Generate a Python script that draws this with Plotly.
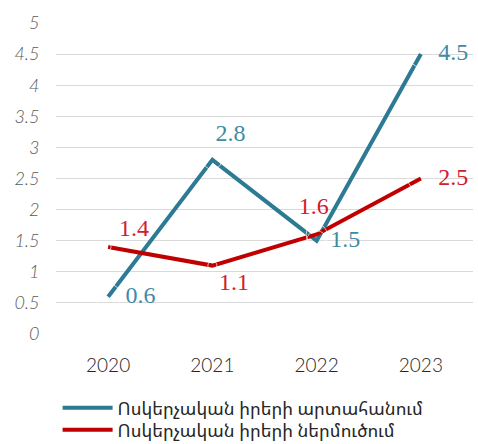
import plotly.graph_objects as go

years = ["2020", "2021", "2022", "2023"]
export_vals = [0.6, 2.8, 1.5, 4.5]
import_vals = [1.4, 1.1, 1.6, 2.5]
export_name = "Ոսկերչական իրերի արտահանում"
import_name = "Ոսկերչական իրերի ներմուծում"
y_ticks = [0, 0.5, 1, 1.5, 2, 2.5, 3, 3.5, 4, 4.5, 5]
y_tick_text = ["0", "0.5", "1", "1.5", "2", "2.5", "3", "3.5", "4", "4.5", "5"]

# styling
blue = "#2C7A93"
blue_lbl = "#3F8BA6"
red = "#C00000"
red_lbl = "#D0202A"
lbl_font = dict(family="Liberation Serif", size=24)
NB = "\u00a0"
# label placement: position, invisible marker size (sets distance), leading / trailing padding
exp_pos = ["middle right", "top center", "middle right", "middle right"]
exp_gap = [26, 19, 20, 26]
exp_lead = [0, 6, 0, 0]
exp_trail = [0, 0, 0, 0]
imp_pos = ["top right", "bottom right", "top center", "middle right"]
imp_gap = [6, 9, 21, 26]
imp_lead = [1, 0, 0, 0]
imp_trail = [0, 0, 1, 0]


def labels(vals, lead, trail):
    return [NB * a + f"{v:.1f}" + NB * b for v, a, b in zip(vals, lead, trail)]


fig = go.Figure()
fig.add_trace(go.Scatter(x=years, y=export_vals, mode="lines", name=export_name,
                         line=dict(color=blue, width=4), legend="legend", hoverinfo="skip"))
fig.add_trace(go.Scatter(x=years, y=import_vals, mode="lines", name=import_name,
                         line=dict(color=red, width=4), legend="legend2", hoverinfo="skip"))
fig.add_trace(go.Scatter(x=years, y=export_vals, mode="markers+text", showlegend=False,
                         marker=dict(size=exp_gap, color="rgba(0,0,0,0)"),
                         text=labels(export_vals, exp_lead, exp_trail), textposition=exp_pos,
                         textfont=dict(**lbl_font, color=blue_lbl), hoverinfo="skip"))
fig.add_trace(go.Scatter(x=years, y=import_vals, mode="markers+text", showlegend=False,
                         marker=dict(size=imp_gap, color="rgba(0,0,0,0)"),
                         text=labels(import_vals, imp_lead, imp_trail), textposition=imp_pos,
                         textfont=dict(**lbl_font, color=red_lbl), hoverinfo="skip"))

leg_font = dict(family="Noto Sans Armenian, DejaVu Sans", size=18, color="#262626")
fig.update_layout(
    width=478, height=444,
    margin=dict(l=56, r=5, t=23, b=110, autoexpand=False),
    paper_bgcolor="white", plot_bgcolor="white",
    showlegend=True,
    legend=dict(xref="container", yref="container", x=0.1205, xanchor="left",
                y=1 - 408 / 444, yanchor="middle", font=leg_font, itemwidth=50,
                bgcolor="rgba(0,0,0,0)"),
    legend2=dict(xref="container", yref="container", x=0.1205, xanchor="left",
                 y=1 - 430 / 444, yanchor="middle", font=leg_font, itemwidth=50,
                 bgcolor="rgba(0,0,0,0)"),
    xaxis=dict(type="category", showgrid=False, zeroline=False, showline=False,
               tickfont=dict(family="Lato", size=19, color="#262626", weight=300),
               ticks="outside", ticklen=14, tickcolor="rgba(0,0,0,0)", range=[-0.5, 3.5]),
    yaxis=dict(range=[0, 5], tickvals=y_ticks, ticktext=["<i>" + t + "</i>" for t in y_tick_text],
               showgrid=True, gridcolor="#D9D9D9", gridwidth=1, zeroline=False,
               tickfont=dict(family="Lato", size=18, color="#595959", weight=300),
               ticks="outside", ticklen=12, tickcolor="rgba(0,0,0,0)"),
)

fig.write_html("out.html", config={"displayModeBar": False},
               post_script="document.body.style.margin='0';")
